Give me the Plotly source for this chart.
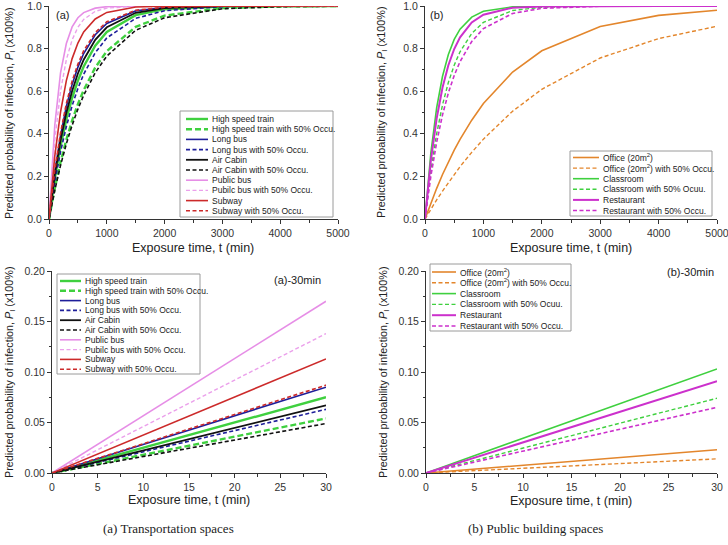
import plotly.graph_objects as go

# ---------------- data ----------------
t_long = [0, 100, 200, 300, 400, 500, 600, 800, 1000, 1500, 2000, 3000, 4000, 5000]
t_short = [0, 30]

trans_names = ["High speed train", "High speed train with 50% Occu.", "Long bus",
               "Long bus with 50% Occu.", "Air Cabin", "Air Cabin with 50% Occu.",
               "Public bus", "Pubilc bus with 50% Occu.", "Subway", "Subway with 50% Occu."]
build_names = ["Office (20m<sup>2</sup>)", "Office (20m<sup>2</sup>) with 50% Occu.", "Classroom",
               "Classroom with 50% Ocuu.", "Restaurant", "Restaurant with 50% Occu."]

hst_long = [0, 0.189, 0.343, 0.467, 0.568, 0.650, 0.716, 0.814, 0.878, 0.957, 0.985, 0.998, 1.0, 1.0]
hst50_long = [0, 0.144, 0.267, 0.372, 0.462, 0.539, 0.605, 0.711, 0.788, 0.902, 0.955, 0.990, 0.998, 1.0]
lbus_long = [0, 0.221, 0.393, 0.528, 0.632, 0.713, 0.777, 0.865, 0.918, 0.977, 0.993, 0.999, 1.0, 1.0]
lbus50_long = [0, 0.173, 0.316, 0.434, 0.532, 0.613, 0.680, 0.781, 0.850, 0.942, 0.978, 0.997, 1.0, 1.0]
air_long = [0, 0.206, 0.369, 0.498, 0.601, 0.683, 0.748, 0.841, 0.900, 0.968, 0.990, 0.999, 1.0, 1.0]
air50_long = [0, 0.135, 0.252, 0.353, 0.440, 0.516, 0.581, 0.687, 0.765, 0.886, 0.945, 0.987, 0.997, 0.999]
pbus_long = [0, 0.440, 0.687, 0.824, 0.902, 0.945, 0.969, 0.990, 0.997, 1.0, 1.0, 1.0, 1.0, 1.0]
pbus50_long = [0, 0.369, 0.601, 0.748, 0.841, 0.900, 0.937, 0.975, 0.990, 0.999, 1.0, 1.0, 1.0, 1.0]
sub_long = [0, 0.295, 0.503, 0.650, 0.753, 0.826, 0.878, 0.939, 0.970, 0.995, 0.999, 1.0, 1.0, 1.0]
sub50_long = [0, 0.229, 0.405, 0.542, 0.647, 0.727, 0.790, 0.875, 0.926, 0.980, 0.994, 1.0, 1.0, 1.0]

office_long = [0, 0.075, 0.144, 0.209, 0.268, 0.323, 0.374, 0.464, 0.542, 0.690, 0.790, 0.904, 0.956, 0.980]
office50_long = [0, 0.046, 0.090, 0.131, 0.171, 0.209, 0.246, 0.313, 0.375, 0.506, 0.609, 0.756, 0.847, 0.905]
class_long = [0, 0.309, 0.523, 0.670, 0.772, 0.843, 0.891, 0.948, 0.975, 0.996, 0.999, 1.0, 1.0, 1.0]
class50_long = [0, 0.226, 0.401, 0.536, 0.641, 0.722, 0.785, 0.871, 0.923, 0.979, 0.994, 1.0, 1.0, 1.0]
rest_long = [0, 0.274, 0.473, 0.617, 0.722, 0.798, 0.853, 0.923, 0.959, 0.992, 0.998, 1.0, 1.0, 1.0]
rest50_long = [0, 0.201, 0.361, 0.489, 0.592, 0.674, 0.739, 0.833, 0.894, 0.965, 0.989, 0.999, 1.0, 1.0]

hst_30 = [0, 0.075]
hst50_30 = [0, 0.054]
lbus_30 = [0, 0.085]
lbus50_30 = [0, 0.063]
air_30 = [0, 0.067]
air50_30 = [0, 0.049]
pbus_30 = [0, 0.170]
pbus50_30 = [0, 0.138]
sub_30 = [0, 0.113]
sub50_30 = [0, 0.087]

office_30 = [0, 0.023]
office50_30 = [0, 0.014]
class_30 = [0, 0.103]
class50_30 = [0, 0.074]
rest_30 = [0, 0.091]
rest50_30 = [0, 0.065]

long_xticks = [0, 1000, 2000, 3000, 4000, 5000]
long_yticks = [0.0, 0.2, 0.4, 0.6, 0.8, 1.0]
short_xticks = [0, 5, 10, 15, 20, 25, 30]
short_yticks = [0.00, 0.05, 0.10, 0.15, 0.20]

trans_long = [hst_long, hst50_long, lbus_long, lbus50_long, air_long, air50_long,
              pbus_long, pbus50_long, sub_long, sub50_long]
trans_30 = [hst_30, hst50_30, lbus_30, lbus50_30, air_30, air50_30,
            pbus_30, pbus50_30, sub_30, sub50_30]
build_long = [office_long, office50_long, class_long, class50_long, rest_long, rest50_long]
build_30 = [office_30, office50_30, class_30, class50_30, rest_30, rest50_30]

# ---------------- styles ----------------
GREEN, NAVY, BLACK, PINK, RED = "#3fd03f", "#1e1e9a", "#111111", "#e68ee6", "#cc2a2a"
ORANGE, MAGENTA = "#e3862c", "#cc30cc"
DASH = "4px,2.5px"
trans_style = [
    (GREEN, "solid", 2.4), (GREEN, "6px,3px", 2.4),
    (NAVY, "solid", 1.6), (NAVY, DASH, 1.6),
    (BLACK, "solid", 1.8), (BLACK, DASH, 1.6),
    (PINK, "solid", 1.6), ("#eba0eb", DASH, 1.4),
    (RED, "solid", 1.6), (RED, DASH, 1.6),
]
build_style = [
    (ORANGE, "solid", 1.6), (ORANGE, DASH, 1.4),
    (GREEN, "solid", 1.6), (GREEN, DASH, 1.4),
    (MAGENTA, "solid", 2.0), (MAGENTA, DASH, 1.6),
]

W, H = 728, 545
def px(x):
    return x / W
def py(y):
    return 1 - y / H

fig = go.Figure()

def add_lines(tx, series, names, styles, xa, ya):
    for ys, nm, (c, d, w) in zip(series, names, styles):
        fig.add_trace(go.Scatter(x=tx, y=ys, mode="lines", name=nm, showlegend=False,
                                 line=dict(color=c, dash=d, width=w), xaxis=xa, yaxis=ya))

add_lines(t_long, trans_long, trans_names, trans_style, "x", "y")
add_lines(t_long, build_long, build_names, build_style, "x2", "y2")
add_lines(t_short, trans_30, trans_names, trans_style, "x3", "y3")
add_lines(t_short, build_30, build_names, build_style, "x4", "y4")

shapes, annos = [], []

def add_legend(box, row0, step, lx0, lx1, tx, names, styles):
    x0, y0, x1, y1 = box
    shapes.append(dict(type="rect", xref="paper", yref="paper", x0=px(x0), x1=px(x1),
                       y0=py(y1), y1=py(y0), line=dict(color="#9a9a9a", width=1),
                       fillcolor="white", layer="above"))
    for i, (nm, (c, d, w)) in enumerate(zip(names, styles)):
        yy = row0 + i * step
        shapes.append(dict(type="line", xref="paper", yref="paper", x0=px(lx0), x1=px(lx1),
                           y0=py(yy), y1=py(yy), line=dict(color=c, dash=d, width=w), layer="above"))
        annos.append(dict(xref="paper", yref="paper", x=px(tx), y=py(yy), text=nm,
                          showarrow=False, xanchor="left", yanchor="middle",
                          font=dict(size=8.5, color="#222")))

add_legend((180, 111, 333, 217), 119, 10.2, 186, 208, 210, trans_names, trans_style)
add_legend((570, 151, 712, 216), 157.5, 10.6, 573, 599, 601, build_names, build_style)
add_legend((57, 274, 200, 374), 281, 9.8, 60, 81, 83, trans_names, trans_style)
add_legend((430, 264, 571, 331), 272, 10.8, 432, 456, 458, build_names, build_style)

def lab(x, y, text, size=11, anchor="left", family=None, angle=0):
    f = dict(size=size, color="#222")
    if family:
        f["family"] = family
    annos.append(dict(xref="paper", yref="paper", x=px(x), y=py(y), text=text, showarrow=False,
                      xanchor=anchor, yanchor="middle", font=f, textangle=angle))

lab(54, 15, "(a)")
lab(428, 15, "(b)")
lab(323, 280, "(a)-30min", anchor="right")
lab(716, 272, "(b)-30min", anchor="right")
lab(168, 528, "(a) Transportation spaces", size=13, anchor="center", family="Liberation Serif")
lab(535, 528, "(b) Public building spaces", size=13, anchor="center", family="Liberation Serif")

ytitle = "Predicted probability of infection, <i>P</i><sub>I</sub> (x100%)"
xtitle = "Exposure time, t (min)"

# axis titles
lab(10, 113, ytitle, size=10.8, anchor="center", angle=-90)
lab(382, 112, ytitle, size=10.8, anchor="center", angle=-90)
lab(10, 372, ytitle, size=10.8, anchor="center", angle=-90)
lab(384, 372, ytitle, size=10.8, anchor="center", angle=-90)
lab(193, 248, xtitle, size=12.5, anchor="center")
lab(571, 248, xtitle, size=12.5, anchor="center")
lab(189, 500, xtitle, size=12.5, anchor="center")
lab(571, 501, xtitle, size=12.5, anchor="center")

def xax(dom, anchor, rng, tv, mdtick):
    return dict(domain=dom, anchor=anchor, range=rng, tickvals=tv, automargin=False,
                ticklabeloverflow="allow",
                showline=True, linecolor="#333", linewidth=1, ticks="outside", ticklen=4,
                tickcolor="#333", showgrid=False, zeroline=False,
                tickfont=dict(size=10.5, color="#333"),
                minor=dict(ticks="outside", ticklen=2.5, tickcolor="#333", dtick=mdtick, tick0=0))

def yax(dom, anchor, rng, tv, mdtick, fmt):
    return dict(domain=dom, anchor=anchor, range=rng, tickvals=tv, tickformat=fmt,
                automargin=False, ticklabeloverflow="allow",
                showline=True, linecolor="#333", linewidth=1, ticks="outside", ticklen=4,
                tickcolor="#333", showgrid=False, zeroline=False,
                tickfont=dict(size=10.5, color="#333"),
                minor=dict(ticks="outside", ticklen=2.5, tickcolor="#333", dtick=mdtick, tick0=0))

top_y = [py(219), py(6)]
bot_y = [py(473), py(271)]

fig.update_layout(
    width=W, height=H, margin=dict(l=0, r=0, t=0, b=0, autoexpand=False),
    paper_bgcolor="white", plot_bgcolor="white",
    font=dict(family="Liberation Sans, Arial, sans-serif", color="#222"),
    showlegend=False,
    xaxis=xax([px(49), px(338)], "y", [0, 5000], long_xticks, 500),
    yaxis=yax(top_y, "x", [0, 1.0], long_yticks, 0.1, ".1f"),
    xaxis2=xax([px(425), px(717)], "y2", [0, 5000], long_xticks, 500),
    yaxis2=yax(top_y, "x2", [0, 1.0], long_yticks, 0.1, ".1f"),
    xaxis3=xax([px(52), px(326)], "y3", [0, 30], short_xticks, 2.5),
    yaxis3=yax(bot_y, "x3", [0, 0.2], short_yticks, 0.025, ".2f"),
    xaxis4=xax([px(426), px(717)], "y4", [0, 30], short_xticks, 2.5),
    yaxis4=yax(bot_y, "x4", [0, 0.2], short_yticks, 0.025, ".2f"),
    shapes=shapes, annotations=annos,
)

fig.write_html("out.html", config={"displayModeBar": False},
               post_script="document.body.style.margin='0';")
